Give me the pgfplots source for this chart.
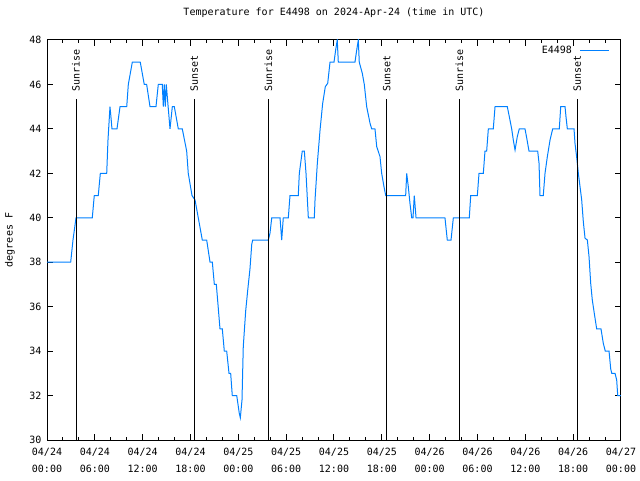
\documentclass[border=0pt]{standalone}
\usepackage{fontspec}
\setmainfont{DejaVu Sans Mono}
\usepackage{pgfplots}
\pgfplotsset{compat=1.18}
\usepackage{pgfplotstable}
\definecolor{tblue}{RGB}{0,128,255}
\pgfplotstableread{
h T
0 38
2.97 38
3.26 39
3.64 40
5.68 40
5.93 41
6.43 41
6.69 42
7.49 42
7.65 43.5
7.90 45
8.03 44.5
8.15 44
8.78 44
9.16 45
10.0 45
10.2 46
10.7 47
11.70 47
12.2 46
12.5 46
12.92 45
13.67 45
13.96 46
14.46 46
14.59 45
14.71 46
14.84 45
14.96 46
15.43 44
15.72 45
15.97 45
16.47 44
16.97 44
17.52 43
17.72 42
18.19 41
18.57 40.8
19.48 39
20.03 39
20.45 38
20.74 38
20.99 37
21.24 37
21.70 35
21.99 35
22.24 34
22.54 34
22.83 33
23.04 33
23.24 32
23.80 32
24.12 31.2
24.25 31
24.46 31.8
24.62 34.2
24.92 35.8
25.18 36.75
25.46 37.7
25.68 38.8
25.80 39
27.76 39
27.97 39.3
28.19 40
29.23 40
29.44 39
29.64 40
30.27 40
30.48 41
31.52 41
31.65 42
32.02 43
32.28 43
32.49 42
32.78 40
33.53 40
33.62 40.8
33.91 42.45
34.25 43.95
34.58 45.15
34.91 45.9
35.21 46.05
35.50 47
36.00 47
36.21 47.55
36.41 48
36.54 47
38.63 47
38.85 47.55
39.05 48
39.17 47
39.55 46.5
39.80 46
40.10 45
40.52 44.25
40.73 44
41.14 44
41.36 43.2
41.77 42.75
41.98 42
42.27 41.4
42.49 41
44.99 41
45.12 42
45.32 41.4
45.53 40.65
45.75 40
45.91 40
46.07 41
46.29 40
49.92 40
50.21 39
50.68 39
50.97 40
52.97 40
53.15 41
53.98 41
54.19 42
54.73 42
54.94 43
55.15 43
55.36 44
55.98 44
56.20 45
57.74 45
57.99 44.55
58.29 44
58.49 43.5
58.71 43.05
58.99 43.65
59.24 44
59.96 44
60.17 43.6
60.46 43
61.55 43
61.72 42.45
61.84 41
62.25 41
62.47 42
62.76 42.75
63.10 43.5
63.43 44
64.26 44
64.44 45
64.98 45
65.10 44.55
65.27 44
66.11 44
66.23 43.35
66.45 42.7
66.65 42
67.07 40.8
67.28 39.8
67.49 39.08
67.78 39
67.99 38.25
68.20 37.05
68.40 36.3
68.65 35.7
68.95 35
69.49 35
69.78 34.35
70.03 34
70.50 34
70.71 33.2
70.84 33
71.25 33
71.46 32.7
71.59 32
72 32
}\temps
\begin{document}
\begin{tikzpicture}
\useasboundingbox (0,0) rectangle (640pt,480pt);
\begin{axis}[
  at={(47pt,40pt)}, anchor=south west,
  scale only axis, width=574pt, height=400pt,
  xmin=0, xmax=72, ymin=30, ymax=48,
  xtick={0,6,...,72},
  xticklabels={{04/24\\00:00},{04/24\\06:00},{04/24\\12:00},{04/24\\18:00},{04/25\\00:00},{04/25\\06:00},{04/25\\12:00},{04/25\\18:00},{04/26\\00:00},{04/26\\06:00},{04/26\\12:00},{04/26\\18:00},{04/27\\00:00}},
  minor x tick num=2,
  ytick={30,32,...,48},
  /pgf/number format/assume math mode=true,
  tick label style={font=\fontsize{10}{17}\selectfont},
  xticklabel style={align=center, yshift=-5pt},
  yticklabel style={xshift=-2pt},
  major tick length=6pt, minor tick length=3pt,
  axis line style={line width=1pt},
  every tick/.style={black, line width=1pt},
  title={Temperature for E4498 on 2024-Apr-24 (time in UTC)},
  title style={font=\fontsize{10}{12}\selectfont, at={(axis description cs:0.5,1.0525)}, anchor=center},
  ylabel={degrees F},
  ylabel style={font=\fontsize{10}{12}\selectfont, at={(axis description cs:-0.0645,0.5)}, anchor=center},
  legend style={at={(axis description cs:0.981,0.99)}, anchor=north east, draw=none, fill=none, inner sep=0pt, font=\fontsize{10}{12}\selectfont,
    /tikz/every odd column/.style={column sep=6pt}},
  legend plot pos=right,
  legend cell align=right,
  legend image code/.code={\draw[#1] (0pt,0pt) -- (29pt,0pt);},
]
\addplot[tblue, line width=1pt] table[x=h, y=T] {\temps};
\addlegendentry{E4498}
\addplot[black, line width=1pt, forget plot] coordinates {(3.64,30) (3.64,45.35)};
\addplot[black, line width=1pt, forget plot] coordinates {(18.48,30) (18.48,45.35)};
\addplot[black, line width=1pt, forget plot] coordinates {(27.76,30) (27.76,45.35)};
\addplot[black, line width=1pt, forget plot] coordinates {(42.61,30) (42.61,45.35)};
\addplot[black, line width=1pt, forget plot] coordinates {(51.72,30) (51.72,45.35)};
\addplot[black, line width=1pt, forget plot] coordinates {(66.52,30) (66.52,45.35)};
\tikzset{sunlbl/.style={rotate=90, anchor=west, inner sep=0pt, font=\fontsize{10}{12}\selectfont}}
\node[sunlbl] at (axis cs:3.64,45.66) {Sunrise};
\node[sunlbl] at (axis cs:18.48,45.66) {Sunset};
\node[sunlbl] at (axis cs:27.76,45.66) {Sunrise};
\node[sunlbl] at (axis cs:42.61,45.66) {Sunset};
\node[sunlbl] at (axis cs:51.72,45.66) {Sunrise};
\node[sunlbl] at (axis cs:66.52,45.66) {Sunset};
\end{axis}
\end{tikzpicture}
\end{document}
